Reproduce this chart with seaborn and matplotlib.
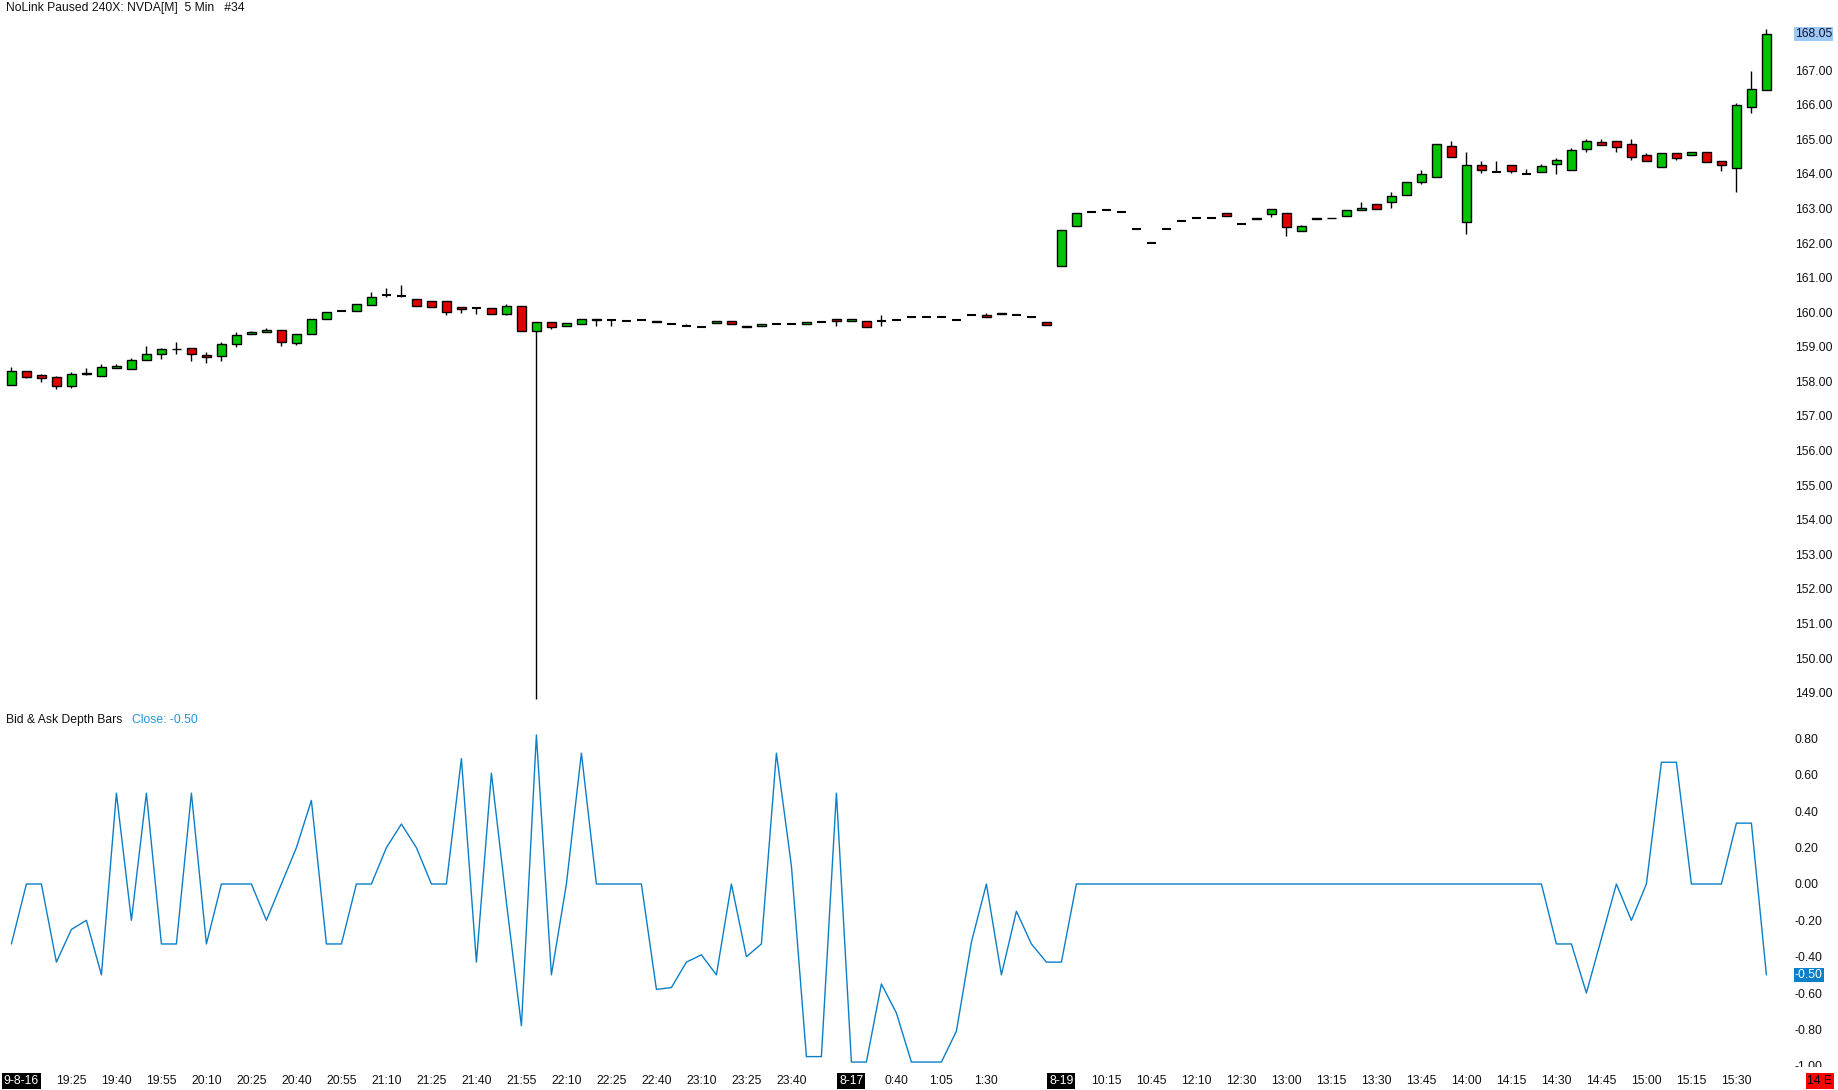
import numpy as np
import pandas as pd
import matplotlib
matplotlib.use("Agg")
import matplotlib.pyplot as plt
import seaborn as sns

# ----------------------------------------------------
# data (one entry per 5 min bar)
# ----------------------------------------------------
opens = [157.91, 158.29, 158.19, 158.12, 157.88, 158.21, 158.17, 158.40, 158.37, 158.63,
         158.79, 158.93, 158.96, 158.76, 158.73, 159.07, 159.38, 159.44, 159.48, 159.12,
         159.37, 159.81, 160.05, 160.03, 160.22, 160.49, 160.46, 160.39, 160.32, 160.32,
         160.14, 160.12, 160.12, 159.96, 160.18, 159.47, 159.71, 159.59, 159.65, 159.81,
         159.77, 159.74, 159.77, 159.76, 159.65, 159.61, 159.57, 159.70, 159.74, 159.60,
         159.60, 159.65, 159.65, 159.65, 159.71, 159.80, 159.74, 159.74, 159.76, 159.77,
         159.86, 159.86, 159.86, 159.77, 159.91, 159.91, 159.99, 159.91, 159.86, 159.73,
         161.35, 162.50, 162.89, 162.97, 162.89, 162.40, 161.99, 162.40, 162.63, 162.74,
         162.74, 162.86, 162.54, 162.69, 162.85, 162.86, 162.34, 162.69, 162.72, 162.79,
         162.95, 163.12, 163.18, 163.40, 163.78, 163.92, 164.81, 162.60, 164.25, 164.07,
         164.25, 163.99, 164.06, 164.28, 164.12, 164.73, 164.91, 164.95, 164.88, 164.55,
         164.21, 164.60, 164.54, 164.62, 164.36, 164.18, 165.93, 166.43]
highs = [158.42, 158.29, 158.22, 158.16, 158.27, 158.38, 158.51, 158.51, 158.67, 159.03,
         158.96, 159.13, 158.96, 158.84, 159.13, 159.44, 159.45, 159.54, 159.48, 159.38,
         159.81, 160.02, 160.05, 160.25, 160.59, 160.69, 160.80, 160.39, 160.32, 160.32,
         160.14, 160.12, 160.12, 160.24, 160.18, 159.71, 159.71, 159.68, 159.80, 159.81,
         159.77, 159.74, 159.77, 159.76, 159.65, 159.66, 159.57, 159.74, 159.74, 159.60,
         159.65, 159.65, 159.65, 159.71, 159.71, 159.80, 159.80, 159.74, 159.91, 159.77,
         159.89, 159.86, 159.86, 159.77, 159.91, 159.97, 159.99, 159.91, 159.86, 159.73,
         162.37, 162.86, 162.89, 162.97, 162.89, 162.40, 161.99, 162.40, 162.63, 162.74,
         162.74, 162.86, 162.54, 162.74, 163.00, 162.86, 162.51, 162.72, 162.74, 162.97,
         163.19, 163.12, 163.47, 163.78, 164.11, 164.86, 164.95, 164.63, 164.36, 164.36,
         164.25, 164.13, 164.29, 164.45, 164.74, 165.01, 165.01, 164.95, 165.01, 164.61,
         164.60, 164.60, 164.62, 164.62, 164.36, 166.05, 166.98, 168.19]
lows = [157.91, 158.11, 157.97, 157.79, 157.82, 158.18, 158.17, 158.40, 158.37, 158.63,
        158.66, 158.78, 158.60, 158.54, 158.60, 159.00, 159.38, 159.44, 159.02, 159.04,
        159.37, 159.81, 160.05, 160.03, 160.22, 160.45, 160.44, 160.19, 160.15, 159.92,
        159.98, 159.95, 159.95, 159.93, 159.47, 148.83, 159.52, 159.59, 159.65, 159.59,
        159.59, 159.74, 159.77, 159.73, 159.65, 159.61, 159.57, 159.70, 159.65, 159.57,
        159.60, 159.65, 159.65, 159.65, 159.71, 159.59, 159.74, 159.57, 159.59, 159.77,
        159.86, 159.86, 159.86, 159.77, 159.91, 159.86, 159.96, 159.91, 159.86, 159.64,
        161.35, 162.50, 162.89, 162.97, 162.89, 162.40, 161.99, 162.40, 162.63, 162.74,
        162.74, 162.79, 162.54, 162.69, 162.76, 162.21, 162.34, 162.69, 162.72, 162.79,
        162.95, 163.00, 163.01, 163.40, 163.70, 163.92, 164.50, 162.26, 164.02, 164.07,
        164.04, 163.99, 164.06, 164.00, 164.12, 164.63, 164.83, 164.63, 164.40, 164.38,
        164.21, 164.40, 164.54, 164.35, 164.09, 163.49, 165.76, 166.43]
closes = [158.29, 158.14, 158.11, 157.88, 158.21, 158.24, 158.41, 158.44, 158.61, 158.79,
          158.93, 158.95, 158.79, 158.70, 159.07, 159.34, 159.42, 159.48, 159.15, 159.37,
          159.81, 160.02, 160.05, 160.25, 160.45, 160.49, 160.46, 160.19, 160.15, 160.02,
          160.10, 160.12, 159.95, 160.18, 159.47, 159.71, 159.56, 159.68, 159.80, 159.79,
          159.77, 159.74, 159.77, 159.73, 159.65, 159.61, 159.57, 159.74, 159.65, 159.57,
          159.65, 159.65, 159.65, 159.71, 159.71, 159.76, 159.80, 159.57, 159.76, 159.77,
          159.86, 159.86, 159.86, 159.77, 159.91, 159.86, 159.96, 159.91, 159.86, 159.64,
          162.37, 162.86, 162.89, 162.97, 162.89, 162.40, 161.99, 162.40, 162.63, 162.74,
          162.74, 162.79, 162.54, 162.74, 163.00, 162.47, 162.48, 162.72, 162.74, 162.97,
          163.01, 163.00, 163.35, 163.78, 164.00, 164.86, 164.50, 164.25, 164.12, 164.07,
          164.09, 163.99, 164.24, 164.40, 164.68, 164.95, 164.83, 164.79, 164.50, 164.38,
          164.60, 164.47, 164.62, 164.35, 164.27, 165.98, 166.45, 168.05]

depth = [-0.33, 0.00, 0.00, -0.43, -0.25, -0.20, -0.50, 0.50, -0.20, 0.50,
         -0.33, -0.33, 0.50, -0.33, 0.00, 0.00, 0.00, -0.20, 0.00, 0.20,
         0.46, -0.33, -0.33, 0.00, 0.00, 0.20, 0.33, 0.20, 0.00, 0.00,
         0.69, -0.43, 0.61, -0.10, -0.78, 0.82, -0.50, 0.00, 0.72, 0.00,
         0.00, 0.00, 0.00, -0.58, -0.57, -0.43, -0.39, -0.50, 0.00, -0.40,
         -0.33, 0.72, 0.10, -0.95, -0.95, 0.50, -0.98, -0.98, -0.55, -0.71,
         -0.98, -0.98, -0.98, -0.81, -0.32, 0.00, -0.50, -0.15, -0.33, -0.43,
         -0.43, 0.00, 0.00, 0.00, 0.00, 0.00, 0.00, 0.00, 0.00, 0.00,
         0.00, 0.00, 0.00, 0.00, 0.00, 0.00, 0.00, 0.00, 0.00, 0.00,
         0.00, 0.00, 0.00, 0.00, 0.00, 0.00, 0.00, 0.00, 0.00, 0.00,
         0.00, 0.00, 0.00, -0.33, -0.33, -0.60, -0.30, 0.00, -0.20, 0.00,
         0.67, 0.67, 0.00, 0.00, 0.00, 0.335, 0.335, -0.50]

# time labels (every 3rd bar) and session date markers
tick_bars = [4, 7, 10, 13, 16, 19, 22, 25, 28, 31, 34, 37, 40, 43, 46, 49, 52,
             59, 62, 65,
             73, 76, 79, 82, 85, 88, 91, 94, 97, 100, 103, 106, 109, 112, 115]
tick_labels = ["19:25", "19:40", "19:55", "20:10", "20:25", "20:40", "20:55", "21:10",
               "21:25", "21:40", "21:55", "22:10", "22:25", "22:40", "23:10", "23:25",
               "23:40", "0:40", "1:05", "1:30",
               "10:15", "10:45", "12:10", "12:30", "13:00", "13:15", "13:30", "13:45",
               "14:00", "14:15", "14:30", "14:45", "15:00", "15:15", "15:30"]
date_bars = [56, 70]
date_labels = ["8-17", "8-19"]
price_ticks = list(range(149, 168))
depth_ticks = [0.8, 0.6, 0.4, 0.2, 0.0, -0.2, -0.4, -0.6, -0.8, -1.0]

df = pd.DataFrame({"open": opens, "high": highs, "low": lows, "close": closes, "depth": depth})
df["bar"] = np.arange(len(df))

# ----------------------------------------------------
# figure layout (pixel based, 1838 x 1090)
# ----------------------------------------------------
sns.set_style("white")
plt.rcParams["font.family"] = ["Liberation Sans", "DejaVu Sans"]
FS = 8.75
W, H = 1838, 1090
PLOT_W = 1788

fig = plt.figure(figsize=(W / 100, H / 100), dpi=100)
x_left = -11.4 / 15
x_right = (PLOT_W - 11.4) / 15

ax = fig.add_axes([0, 1 - 703 / H, PLOT_W / W, 703 / H])
axl = fig.add_axes([0, (H - 1066) / H, PLOT_W / W, (1066 - 728) / H])
axx = fig.add_axes([0, 0, 1, 23 / H], zorder=5)

# price panel: candles
green, red = "#00c400", "#e00000"
body_w = 0.6
ax.vlines(df["bar"], df["low"], df["high"], color="black", lw=1, zorder=1)
for _, r in df.iterrows():
    if abs(r["close"] - r["open"]) < 0.005:
        ax.hlines(r["open"], r["bar"] - body_w / 2, r["bar"] + body_w / 2, color="black", lw=1.5, zorder=2)
    else:
        col = green if r["close"] > r["open"] else red
        ax.bar(r["bar"], abs(r["close"] - r["open"]), bottom=min(r["open"], r["close"]),
               width=body_w, color=col, edgecolor="black", linewidth=1, zorder=2)

ax.set_xlim(x_left, x_right)
ax.set_ylim(148.70, 169.03)
ax.yaxis.tick_right()
ax.set_yticks(price_ticks)
ax.set_yticklabels([f"{p:.2f}" for p in price_ticks])
ax.tick_params(axis="y", length=0, pad=5, labelsize=FS, labelcolor="#111111")
ax.set_xticks([])
ax.annotate(f"{closes[-1]:.2f}", xy=(1, closes[-1]), xycoords=("axes fraction", "data"),
            xytext=(5, 0), textcoords="offset points", va="center", ha="left", fontsize=FS,
            color="#111133", bbox=dict(boxstyle="square,pad=0.1", fc="#9ec9f5", ec="none"))
fig.text(6 / W, 1 - 8 / H, "NoLink Paused 240X: NVDA[M]  5 Min   #34", fontsize=FS,
         va="center", ha="left", color="#111111")

# depth panel
sns.lineplot(data=df, x="bar", y="depth", ax=axl, color="#0a7fc8", linewidth=1)
axl.set_xlim(x_left, x_right)
axl.set_ylim(-1.0017, 0.8586)
axl.yaxis.tick_right()
axl.set_yticks(depth_ticks)
axl.set_yticklabels([f"{v:.2f}" for v in depth_ticks])
axl.tick_params(axis="y", length=0, pad=5, labelsize=FS, labelcolor="#111111")
axl.set_xticks([])
axl.set_xlabel("")
axl.set_ylabel("")
axl.annotate(f"{depth[-1]:.2f}", xy=(1, depth[-1]), xycoords=("axes fraction", "data"),
             xytext=(5, 0), textcoords="offset points", va="center", ha="left", fontsize=FS,
             color="white", bbox=dict(boxstyle="square,pad=0.1", fc="#0a7fc8", ec="none"))
fig.text(6 / W, 1 - 720 / H, "Bid & Ask Depth Bars", fontsize=FS, va="center", ha="left", color="#111111")
fig.text(132 / W, 1 - 720 / H, f"Close: {depth[-1]:.2f}", fontsize=FS, va="center", ha="left", color="#1e96dc")

for a in (ax, axl, axx):
    for s in a.spines.values():
        s.set_visible(False)

# time axis strip (covers the lower half of the -1.00 label, as in the original)
axx.set_facecolor("white")
axx.set_xlim(x_left, (W - 11.4) / 15)
axx.set_ylim(0, 1)
axx.set_xticks([])
axx.set_yticks([])
ty = 0.4
for b, lab in zip(tick_bars, tick_labels):
    axx.text(b, ty, lab, fontsize=FS, ha="center", va="center", color="#111111")
for b, lab in zip(date_bars, date_labels):
    axx.text(b, ty, lab, fontsize=FS, ha="center", va="center", color="white",
             bbox=dict(boxstyle="square,pad=0.15", fc="black", ec="none"))
axx.text(0.002, ty, "9-8-16", transform=axx.transAxes, fontsize=FS, ha="left", va="center",
         color="white", bbox=dict(boxstyle="square,pad=0.15", fc="black", ec="none"))
axx.text(0.997, ty, "14 E", transform=axx.transAxes, fontsize=FS, ha="right", va="center",
         color="black", bbox=dict(boxstyle="square,pad=0.15", fc="#ff0000", ec="none"))

fig.savefig("out.png", dpi=100, facecolor="white")
